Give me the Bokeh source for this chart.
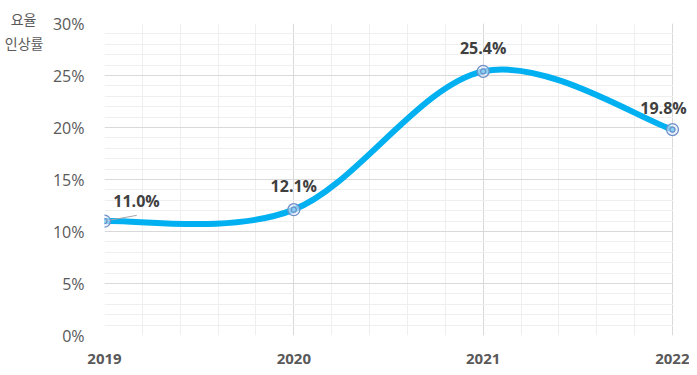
import numpy as np
from bokeh.plotting import figure
from bokeh.models import (ColumnDataSource, FixedTicker, NumeralTickFormatter,
                          Range1d, LabelSet, LinearAxis)
from bokeh.core.properties import value
from bokeh.embed import file_html
from bokeh.resources import INLINE

years = [2019, 2020, 2021, 2022]
rates = [11.0, 12.1, 25.4, 19.8]
rate_labels = ["11.0%", "12.1%", "25.4%", "19.8%"]
y_ticks = [0, 5, 10, 15, 20, 25, 30]
y_title = "요율\u2002\n인상률"

# label offsets (layout only)
lab_dx = [32, 0, 0, -9]
lab_dy = [20, 24, 23, 22]

NUM_FONT = "Open Sans"
KR_FONT = "Noto Sans CJK KR"

W, H = 689, 367
LEFT, TOP, BOTTOM = 104, 23, 32
PLOT_W = 568            # pixel width between first and last year
frame_w = W - LEFT
x_end = years[0] + (years[-1] - years[0]) * frame_w / PLOT_W

p = figure(width=W, height=H, output_backend="svg", toolbar_location=None,
           x_range=Range1d(years[0], x_end), y_range=Range1d(y_ticks[0], y_ticks[-1]),
           min_border_left=LEFT, min_border_right=0, min_border_top=TOP, min_border_bottom=BOTTOM)
p.outline_line_color = None
p.background_fill_color = "white"

# axes
p.xaxis.ticker = FixedTicker(ticks=years,
                             minor_ticks=list(np.round(np.arange(years[0], years[-1] + 0.001, 0.2), 3)))
p.yaxis.ticker = FixedTicker(ticks=y_ticks,
                             minor_ticks=list(np.arange(y_ticks[0], y_ticks[-1] + 1, 1)))
p.yaxis.formatter = NumeralTickFormatter(format="0")
p.yaxis.major_label_overrides = {t: f"{t}%" for t in y_ticks}
for ax in (p.xaxis, p.yaxis):
    ax.axis_line_color = None
    ax.major_tick_line_color = None
    ax.minor_tick_line_color = None
p.xaxis.major_label_text_font = NUM_FONT
p.xaxis.major_label_text_font_style = "bold"
p.xaxis.major_label_text_font_size = "15px"
p.xaxis.major_label_text_color = "#595959"
p.xaxis.major_label_standoff = 12
p.yaxis.major_label_text_font = NUM_FONT
p.yaxis.major_label_text_font_size = "16px"
p.yaxis.major_label_text_color = "#595959"
p.yaxis.major_label_standoff = 14

# y-axis title as an outer axis with a single labelled tick near the top
title_pos = 29.3
title_axis = LinearAxis(ticker=FixedTicker(ticks=[title_pos]),
                        major_label_overrides={title_pos: y_title},
                        axis_line_color=None, major_tick_line_color=None,
                        minor_tick_line_color=None,
                        major_label_text_font=KR_FONT, major_label_text_font_size="14px",
                        major_label_text_color="#595959",
                        major_label_standoff=0)
p.add_layout(title_axis, "left")

p.xgrid.grid_line_color = "#d9d9d9"
p.xgrid.minor_grid_line_color = "#efefef"
p.ygrid.grid_line_color = "#d9d9d9"
p.ygrid.minor_grid_line_color = "#efefef"

# white mask to the right of the last year (keeps room for the last label)
p.quad(left=[years[-1] + 0.003], right=[x_end], bottom=[y_ticks[0]], top=[y_ticks[-1]],
       fill_color="white", line_color=None)

# smooth curve (cubic bezier, Catmull-Rom style control points)
xs = np.array(years, dtype=float)
ys = np.array(rates, dtype=float)
n = len(xs)
x0, y0, x1, y1, cx0, cy0, cx1, cy1 = [], [], [], [], [], [], [], []
for i in range(n - 1):
    pm = max(i - 1, 0)
    pn = min(i + 2, n - 1)
    x0.append(xs[i]); y0.append(ys[i])
    x1.append(xs[i + 1]); y1.append(ys[i + 1])
    cx0.append(xs[i] + (xs[i + 1] - xs[pm]) / 6)
    cy0.append(ys[i] + (ys[i + 1] - ys[pm]) / 6)
    cx1.append(xs[i + 1] - (xs[pn] - xs[i]) / 6)
    cy1.append(ys[i + 1] - (ys[pn] - ys[i]) / 6)
p.bezier(x0=x0, y0=y0, x1=x1, y1=y1, cx0=cx0, cy0=cy0, cx1=cx1, cy1=cy1,
         line_color="#00b0f0", line_width=6, line_cap="round")

# leader line for first label
p.segment(x0=[years[0]], y0=[rates[0]], x1=[years[0] + 0.17], y1=[rates[0] + 0.55],
          line_color="#a6a6a6", line_width=1)

src = ColumnDataSource(dict(x=years, y=rates, t=rate_labels, dx=lab_dx, dy=lab_dy))
p.scatter("x", "y", source=src, size=12, fill_color="#dfe8f5", fill_alpha=0.6,
          line_color="#6f8fc8", line_width=1.3)
p.scatter("x", "y", source=src, size=5, fill_color=None,
          line_color="#6f8fc8", line_width=1.2)

labels = LabelSet(x="x", y="y", text="t", source=src, x_offset="dx", y_offset="dy",
                  text_align="center", text_baseline="middle",
                  text_font=value(NUM_FONT), text_font_style="bold",
                  text_font_size="16px", text_color="#404040")
p.add_layout(labels)

open("out.html", "w").write(file_html(p, INLINE))
